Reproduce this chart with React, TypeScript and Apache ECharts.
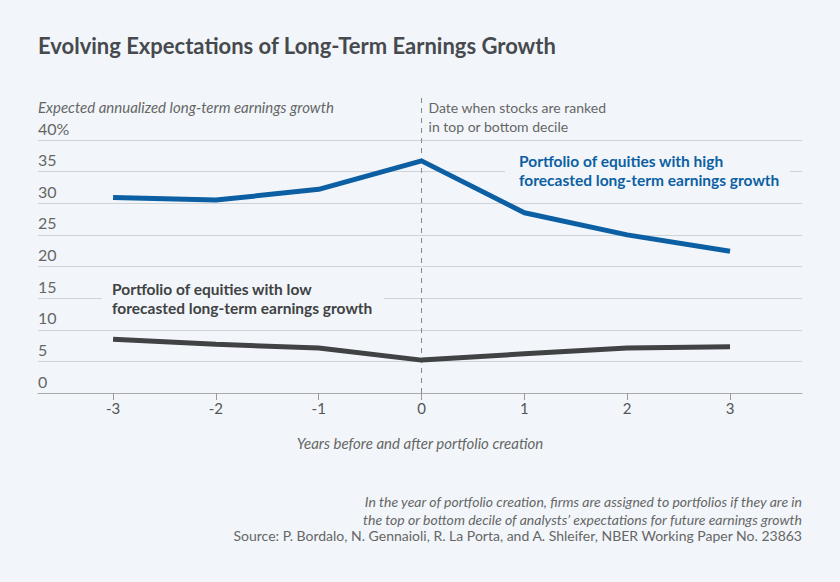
import React, { useEffect, useRef } from "react";
import * as echarts from "echarts";

const years = [-3, -2, -1, 0, 1, 2, 3];
const highGrowth = [30.9, 30.5, 32.2, 36.7, 28.5, 25.0, 22.4];
const lowGrowth = [8.5, 7.7, 7.1, 5.2, 6.2, 7.1, 7.3];
const yTicks = [0, 5, 10, 15, 20, 25, 30, 35, 40];

const BG = "#f2f6fa";
const FONT = "Lato, 'Open Sans', sans-serif";

export default function App() {
  const ref = useRef<HTMLDivElement>(null);
  useEffect(() => {
    if (!ref.current) return;
    const chart = echarts.init(ref.current, undefined, { renderer: "svg" });
    const option: any = {
      animation: false,
      backgroundColor: BG,
      textStyle: { fontFamily: FONT },
      grid: { left: 38, right: 38, top: 140, bottom: 189, containLabel: false },
      title: {
        text: "Evolving Expectations of Long-Term Earnings Growth",
        left: 38,
        top: 34,
        padding: 0,
        textStyle: { fontFamily: FONT, fontSize: 22, fontWeight: "bold", color: "#464a4e" },
      },
      xAxis: {
        type: "value",
        min: -3.73,
        max: 3.7,
        name: "Years before and after portfolio creation",
        nameLocation: "middle",
        nameGap: 42,
        nameTextStyle: { fontFamily: FONT, fontStyle: "italic", fontSize: 15, color: "#666" },
        axisLine: { show: true, lineStyle: { color: "#aaa", width: 1 } },
        axisTick: { show: true, customValues: years, length: 7, lineStyle: { color: "#999" } },
        axisLabel: { customValues: years, color: "#555", fontSize: 15, margin: 7, fontFamily: FONT },
        splitLine: { show: false },
      },
      yAxis: {
        type: "value",
        min: 0,
        max: 40,
        interval: 5,
        axisLine: { show: false },
        axisTick: { show: false },
        axisLabel: {
          inside: true,
          margin: 0,
          align: "left",
          verticalAlign: "bottom",
          padding: [0, 0, 4, 0],
          color: "#666",
          fontSize: 16,
          fontFamily: FONT,
          formatter: (v: number) => (v === yTicks[yTicks.length - 1] ? v + "%" : String(v)),
        },
        splitLine: { show: true, lineStyle: { color: "#cfd3d7", width: 1 } },
      },
      series: [
        {
          type: "line",
          data: years.map((y, i) => [y, highGrowth[i]]),
          symbol: "none",
          lineStyle: { color: "#0d5fa3", width: 5 },
          z: 3,
        },
        {
          type: "line",
          data: years.map((y, i) => [y, lowGrowth[i]]),
          symbol: "none",
          lineStyle: { color: "#404244", width: 5 },
          z: 3,
        },
      ],
    };
    chart.setOption(option);
    const x0 = chart.convertToPixel({ xAxisIndex: 0 }, 0) as number;
    const yTop = 98;
    const yBottom = chart.convertToPixel({ yAxisIndex: 0 }, 0) as number;
    chart.setOption({
      graphic: [
        {
          type: "line",
          shape: { x1: x0, y1: yTop, x2: x0, y2: yBottom },
          style: { stroke: "#888", lineWidth: 1, lineDash: [5, 5] },
          z: 1,
        },
        {
          type: "text",
          x: 38,
          y: 99,
          style: {
            text: "Expected annualized long-term earnings growth",
            font: `italic 15px ${FONT}`,
            fill: "#666",
          },
        },
        {
          type: "text",
          x: x0 + 7,
          y: 98,
          style: {
            text: "Date when stocks are ranked\nin top or bottom decile",
            font: `14px ${FONT}`,
            lineHeight: 19,
            fill: "#666",
          },
        },
        {
          type: "rect",
          shape: { x: 505, y: 150, width: 285, height: 42 },
          style: { fill: BG },
          z: 2,
        },
        {
          type: "text",
          x: 519,
          y: 151,
          z: 5,
          style: {
            text: "Portfolio of equities with high\nforecasted long-term earnings growth",
            font: `bold 15.5px ${FONT}`,
            lineHeight: 19,
            fill: "#0d5fa3",
          },
        },
        {
          type: "rect",
          shape: { x: 102, y: 279, width: 282, height: 38 },
          style: { fill: BG },
          z: 2,
        },
        {
          type: "text",
          x: 112,
          y: 279,
          z: 5,
          style: {
            text: "Portfolio of equities with low\nforecasted long-term earnings growth",
            font: `bold 15.5px ${FONT}`,
            lineHeight: 19,
            fill: "#404244",
          },
        },
        {
          type: "text",
          x: 802,
          y: 492,
          style: {
            text: "In the year of portfolio creation, firms are assigned to portfolios if they are in\nthe top or bottom decile of analysts\u2019 expectations for future earnings growth",
            font: `italic 14px ${FONT}`,
            lineHeight: 18,
            fill: "#666",
            align: "right",
          },
        },
        {
          type: "text",
          x: 802,
          y: 528,
          style: {
            text: "Source: P. Bordalo, N. Gennaioli, R. La Porta, and A. Shleifer, NBER Working Paper No. 23863",
            font: `14px ${FONT}`,
            fill: "#666",
            align: "right",
          },
        },
      ],
    });
    return () => chart.dispose();
  }, []);
  return <div ref={ref} style={{ width: 840, height: 582, position: "absolute", left: 0, top: 0 }} />;
}
